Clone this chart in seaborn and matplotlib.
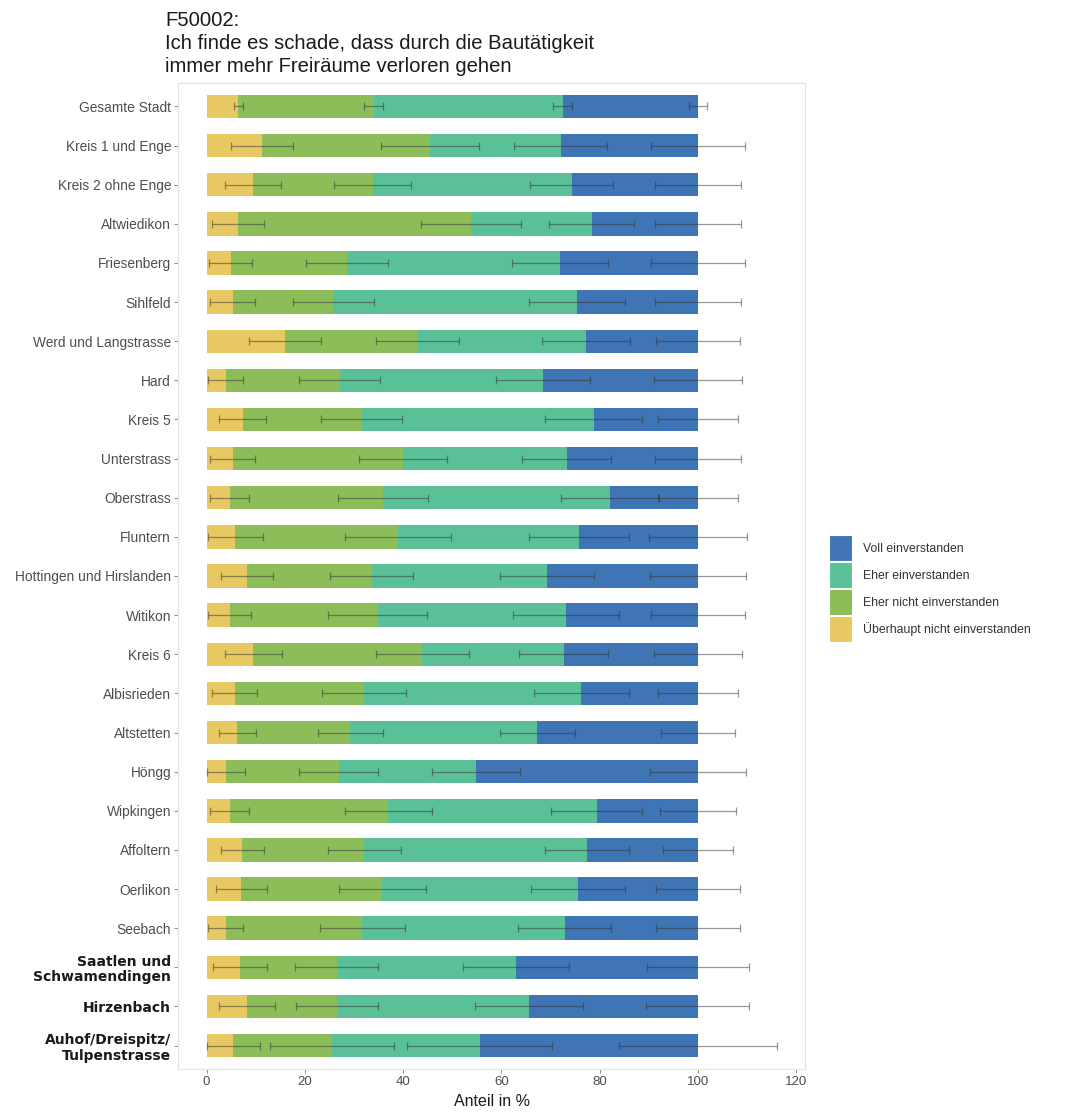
import matplotlib
matplotlib.use("Agg")
import matplotlib.pyplot as plt
from matplotlib.patches import Patch
import numpy as np
import pandas as pd
import seaborn as sns

# Survey areas (top to bottom)
gebiete = [
    "Gesamte Stadt", "Kreis 1 und Enge", "Kreis 2 ohne Enge", "Altwiedikon",
    "Friesenberg", "Sihlfeld", "Werd und Langstrasse", "Hard", "Kreis 5",
    "Unterstrass", "Oberstrass", "Fluntern", "Hottingen und Hirslanden",
    "Witikon", "Kreis 6", "Albisrieden", "Altstetten", "Höngg", "Wipkingen",
    "Affoltern", "Oerlikon", "Seebach", "Saatlen und\nSchwamendingen",
    "Hirzenbach", "Auhof/Dreispitz/\nTulpenstrasse",
]
# Areas with small samples, shown in bold
fett = ["Saatlen und\nSchwamendingen", "Hirzenbach", "Auhof/Dreispitz/\nTulpenstrasse"]

# Shares in % per answer
ueberhaupt_nicht = [6.5, 11.3, 9.5, 6.5, 4.9, 5.3, 16.0, 3.9, 7.4, 5.3, 4.7, 5.9, 8.2,
                    4.7, 9.5, 5.7, 6.3, 3.9, 4.7, 7.3, 7.1, 3.9, 6.9, 8.3, 5.3]
eher_nicht = [27.5, 34.2, 24.3, 47.3, 23.7, 20.5, 26.9, 23.2, 24.2, 34.7, 31.2, 33.1, 25.4,
              30.1, 34.4, 26.4, 23.0, 23.0, 32.3, 24.8, 28.7, 27.8, 19.6, 18.2, 20.2]
eher = [38.5, 26.6, 40.5, 24.6, 43.3, 49.6, 34.3, 41.4, 47.2, 33.3, 46.2, 36.8, 35.7,
        38.3, 28.8, 44.2, 38.0, 27.9, 42.4, 45.3, 39.8, 41.2, 36.5, 39.2, 30.1]
voll = [27.5, 27.9, 25.7, 21.6, 28.1, 24.6, 22.8, 31.5, 21.2, 26.7, 17.9, 24.2, 30.7,
        26.9, 27.3, 23.7, 32.7, 45.2, 20.6, 22.6, 24.4, 27.1, 37.0, 34.3, 44.4]

# Confidence interval half-widths (percentage points) per answer
ci_ueberhaupt_nicht = [1.0, 6.4, 5.7, 5.3, 4.3, 4.5, 7.3, 3.6, 4.8, 4.5, 4.0, 5.6, 5.3,
                       4.4, 5.8, 4.6, 3.8, 3.9, 4.0, 4.4, 5.2, 3.6, 5.5, 5.7, 5.5]
ci_eher_nicht = [1.9, 10.0, 7.9, 10.2, 8.3, 8.2, 8.4, 8.2, 8.2, 9.0, 9.1, 10.8, 8.4,
                 10.0, 9.5, 8.6, 6.6, 8.1, 8.8, 7.4, 8.9, 8.6, 8.4, 8.3, 12.6]
ci_eher = [1.9, 9.5, 8.5, 8.7, 9.8, 9.8, 9.0, 9.5, 9.9, 9.0, 9.9, 10.2, 9.5,
           10.8, 9.1, 9.7, 7.6, 8.9, 9.3, 8.6, 9.6, 9.5, 10.7, 11.0, 14.7]
ci_voll = [1.8, 9.5, 8.7, 8.7, 9.5, 8.7, 8.5, 8.9, 8.2, 8.7, 8.2, 9.9, 9.7,
           9.6, 8.9, 8.2, 7.6, 9.8, 7.7, 7.1, 8.5, 8.5, 10.4, 10.5, 16.0]

antworten = ["Überhaupt nicht einverstanden", "Eher nicht einverstanden",
             "Eher einverstanden", "Voll einverstanden"]
farben = {
    "Überhaupt nicht einverstanden": "#e8c862",
    "Eher nicht einverstanden": "#8cbd58",
    "Eher einverstanden": "#5ac097",
    "Voll einverstanden": "#3f74b5",
}

sns.set_theme(style="white")
plt.rcParams["font.family"] = ["Liberation Sans", "DejaVu Sans"]

anteile = pd.DataFrame({
    antworten[0]: ueberhaupt_nicht,
    antworten[1]: eher_nicht,
    antworten[2]: eher,
    antworten[3]: voll,
}, index=gebiete)
ci = pd.DataFrame({
    antworten[0]: ci_ueberhaupt_nicht,
    antworten[1]: ci_eher_nicht,
    antworten[2]: ci_eher,
    antworten[3]: ci_voll,
}, index=gebiete)
kumuliert = anteile.cumsum(axis=1)

fig = plt.figure(figsize=(10.71, 11.15), dpi=100)
ax = fig.add_axes([178 / 1071, 46 / 1115, (805 - 178) / 1071, (1069 - 83) / 1115])

# Stacked bars: draw cumulative totals, largest first
for antwort in reversed(antworten):
    sns.barplot(x=kumuliert[antwort].values, y=gebiete, color=farben[antwort],
                width=0.6, saturation=1, orient="h", ax=ax, linewidth=0)

# Error bars at the cumulative boundaries
ypos = np.arange(len(gebiete))
for antwort in antworten:
    mitte = kumuliert[antwort].values
    halb = ci[antwort].values
    unten = np.minimum(halb, mitte)  # do not extend below 0
    ax.errorbar(mitte, ypos, xerr=[unten, halb], fmt="none", ecolor="#333333",
                elinewidth=0.9, capsize=3.2, capthick=0.9, alpha=0.5, zorder=5)

ax.set_xlim(-5.8, 121.8)
ax.set_ylim(len(gebiete) - 0.4, -0.6)
ax.set_xticks([0, 20, 40, 60, 80, 100, 120])
ax.set_xlabel("Anteil in %", fontsize=11.5, color="#1a1a1a", labelpad=4)
ax.set_ylabel("")

for s in ax.spines.values():
    s.set_color("#e3e3e3")
    s.set_linewidth(0.8)
ax.tick_params(axis="both", which="both", length=3, width=0.7, color="#8c8c8c",
               labelsize=9.9, labelcolor="#4d4d4d", pad=2, left=True, bottom=True)
ax.tick_params(axis="x", labelsize=9.5)

for lab in ax.get_yticklabels():
    if lab.get_text() in fett:
        lab.set_fontweight("bold")
        lab.set_family(["DejaVu Sans"])
        lab.set_color("#1a1a1a")
        lab.set_fontsize(10)
        lab.set_linespacing(1.15)

fig.text(165 / 1071, 1 - 11 / 1115,
         "F50002:\nIch finde es schade, dass durch die Bautätigkeit\nimmer mehr Freiräume verloren gehen",
         ha="left", va="top", fontsize=14.6, color="#1a1a1a", linespacing=1.28)

handles = [Patch(facecolor=farben[a], edgecolor="white", linewidth=0.8, label=a)
           for a in reversed(antworten)]
fig.legend(handles=handles, loc="upper left",
           bbox_to_anchor=(829 / 1071, 1 - 535 / 1115), frameon=False,
           fontsize=8.8, labelcolor="#333333", handlelength=1.9, handleheight=2.9,
           handletextpad=0.9, labelspacing=0.08, borderpad=0, borderaxespad=0)

fig.savefig("out.png", dpi=100, facecolor="white")
